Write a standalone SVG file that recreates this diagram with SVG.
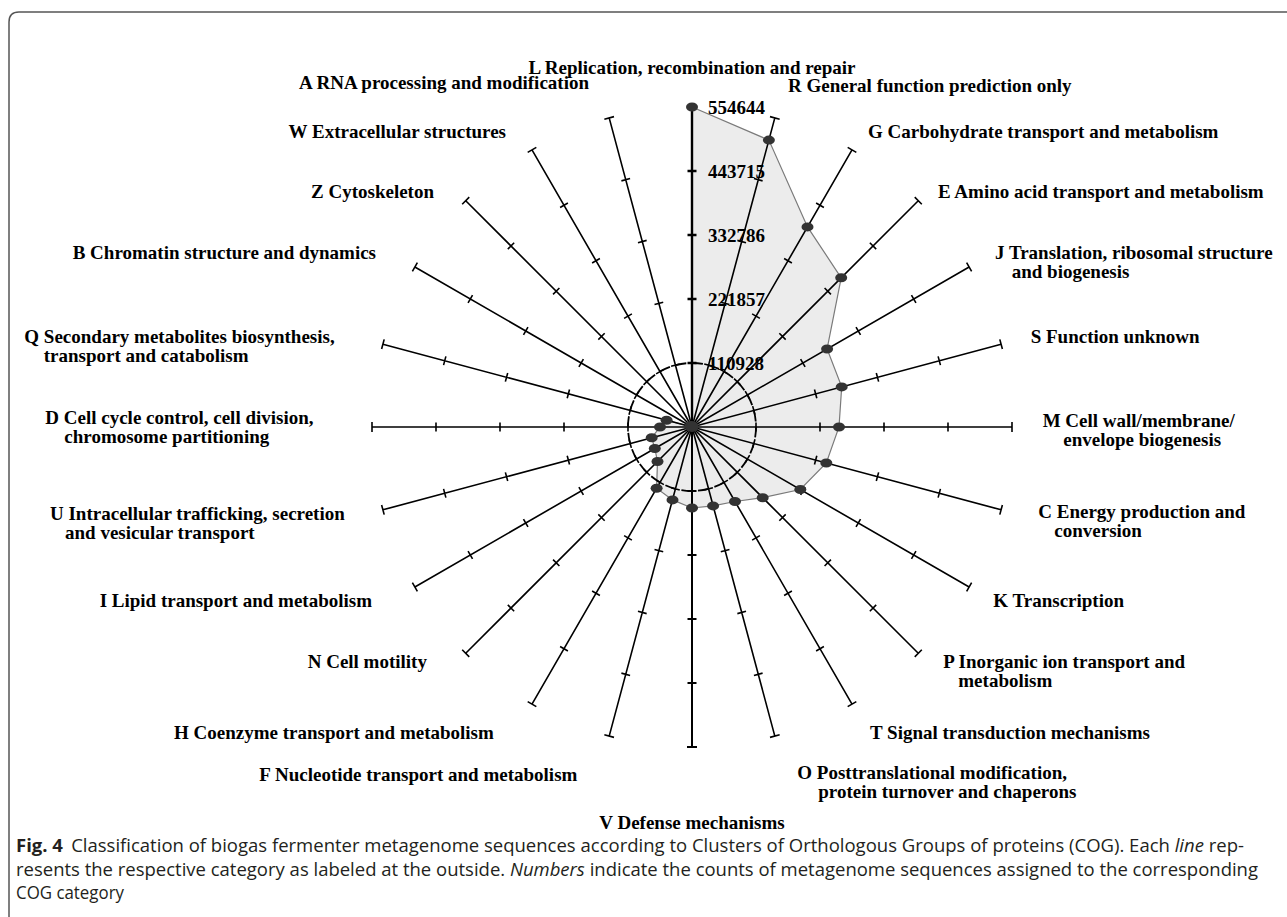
<svg xmlns="http://www.w3.org/2000/svg" width="1287" height="917" viewBox="0 0 1287 917">
<style>
.lbl{font-family:"Liberation Serif","Times New Roman",serif;font-weight:bold;font-size:19px;fill:#000}
.num{font-family:"Liberation Serif","Times New Roman",serif;font-weight:bold;font-size:19px;fill:#000}
.ax{fill:none;stroke:#000;stroke-width:1.6}
.dot{fill:#333}
.cap{font-family:"Open Sans","Noto Sans","Liberation Sans",sans-serif;font-size:18px;fill:#231f20}
</style>
<defs>
<path id="ax" d="M692 427V107M687 107H697M687.5 363H696.5M687.5 299H696.5M687.5 235H696.5M687.5 171H696.5"/>
</defs>
<rect width="1287" height="917" fill="#fff"/>
<path id="frame" d="M9 917V22Q9 12 19 12H1287" fill="none" stroke="#555" stroke-width="1.5"/>

<g id="data-area">
<polygon points="692,107 768.9,140.1 807.5,226.9 841.2,277.8 827.1,349 841.7,386.9 839,427 826.3,463 800.3,489.5 762.7,497.7 735,501.5 713.1,505.9 692,508 672.5,499.9 656.6,488.2 657.5,461.5 654.8,448.5 651.7,437.8 660,427 666.6,420.2 692,427" fill="#ececec" stroke="#7a7a7a" stroke-width="1.2"/>
<circle cx="692" cy="427" r="64" fill="none" stroke="#000" stroke-width="1.8" stroke-dasharray="10.5 6.255"/>
</g>

<g id="connectors" class="ax">
<path d="M692 427V107M687.5 363H696.5M687.5 299H696.5M687.5 235H696.5M687.5 171H696.5" stroke-width="2.4"/>
<use href="#ax" transform="rotate(15 692 427)"/>
<use href="#ax" transform="rotate(30 692 427)"/>
<use href="#ax" transform="rotate(45 692 427)"/>
<use href="#ax" transform="rotate(60 692 427)"/>
<use href="#ax" transform="rotate(75 692 427)"/>
<use href="#ax" transform="rotate(90 692 427)"/>
<use href="#ax" transform="rotate(105 692 427)"/>
<use href="#ax" transform="rotate(120 692 427)"/>
<use href="#ax" transform="rotate(135 692 427)"/>
<use href="#ax" transform="rotate(150 692 427)"/>
<use href="#ax" transform="rotate(165 692 427)"/>
<use href="#ax" transform="rotate(180 692 427)" stroke-width="2"/>
<use href="#ax" transform="rotate(195 692 427)"/>
<use href="#ax" transform="rotate(210 692 427)"/>
<use href="#ax" transform="rotate(225 692 427)"/>
<use href="#ax" transform="rotate(240 692 427)"/>
<use href="#ax" transform="rotate(255 692 427)"/>
<use href="#ax" transform="rotate(270 692 427)"/>
<use href="#ax" transform="rotate(285 692 427)"/>
<use href="#ax" transform="rotate(300 692 427)"/>
<use href="#ax" transform="rotate(315 692 427)"/>
<use href="#ax" transform="rotate(330 692 427)"/>
<use href="#ax" transform="rotate(345 692 427)"/>
</g>

<g id="points" class="dot">
<ellipse cx="692" cy="107" rx="6" ry="4.5"/>
<ellipse cx="768.9" cy="140.1" rx="6" ry="4.5"/>
<ellipse cx="807.5" cy="226.9" rx="6" ry="4.5"/>
<ellipse cx="841.2" cy="277.8" rx="6" ry="4.5"/>
<ellipse cx="827.1" cy="349" rx="6" ry="4.5"/>
<ellipse cx="841.7" cy="386.9" rx="6" ry="4.5"/>
<ellipse cx="839" cy="427" rx="6" ry="4.5"/>
<ellipse cx="826.3" cy="463" rx="6" ry="4.5"/>
<ellipse cx="800.3" cy="489.5" rx="6" ry="4.5"/>
<ellipse cx="762.7" cy="497.7" rx="6" ry="4.5"/>
<ellipse cx="735" cy="501.5" rx="6" ry="4.5"/>
<ellipse cx="713.1" cy="505.9" rx="6" ry="4.5"/>
<ellipse cx="692" cy="508" rx="6" ry="4.5"/>
<ellipse cx="672.5" cy="499.9" rx="6" ry="4.5"/>
<ellipse cx="656.6" cy="488.2" rx="6" ry="4.5"/>
<ellipse cx="657.5" cy="461.5" rx="6" ry="4.5"/>
<ellipse cx="654.8" cy="448.5" rx="6" ry="4.5"/>
<ellipse cx="651.7" cy="437.8" rx="6" ry="4.5"/>
<ellipse cx="660" cy="427" rx="6" ry="4.5"/>
<ellipse cx="666.6" cy="420.2" rx="6" ry="4.5"/>
<ellipse cx="690.5" cy="426.2" rx="6" ry="4.5"/>
<ellipse cx="691" cy="425.5" rx="6" ry="4.5"/>
<ellipse cx="692" cy="427" rx="6.5" ry="5"/>
<ellipse cx="692.5" cy="426" rx="6" ry="4.5"/>
</g>

<g id="scale" class="num">
<text x="708" y="114">554644</text>
<text x="708" y="178">443715</text>
<text x="708" y="242">332786</text>
<text x="708" y="306">221857</text>
<text x="708" y="370">110928</text>
</g>

<g id="labels" class="lbl">
<g id="L"><text x="692" y="74" text-anchor="middle">L Replication, recombination and repair</text></g>
<g id="R"><text x="788" y="92">R General function prediction only</text></g>
<g id="G"><text x="868" y="138">G Carbohydrate transport and metabolism</text></g>
<g id="E"><text x="938" y="198">E Amino acid transport and metabolism</text></g>
<g id="J"><text x="995" y="259">J Translation, ribosomal structure</text><text x="1011.7" y="278">and biogenesis</text></g>
<g id="S"><text x="1030.7" y="343">S Function unknown</text></g>
<g id="M"><text x="1042.7" y="427">M Cell wall/membrane/</text><text x="1063.3" y="446">envelope biogenesis</text></g>
<g id="C"><text x="1038.3" y="518">C Energy production and</text><text x="1054.3" y="537">conversion</text></g>
<g id="K"><text x="993.3" y="607">K Transcription</text></g>
<g id="P"><text x="943.3" y="668">P Inorganic ion transport and</text><text x="958.3" y="687">metabolism</text></g>
<g id="T"><text x="870" y="739">T Signal transduction mechanisms</text></g>
<g id="O"><text x="797.3" y="779">O Posttranslational modification,</text><text x="818.3" y="798">protein turnover and chaperons</text></g>
<g id="V"><text x="692" y="829" text-anchor="middle">V Defense mechanisms</text></g>
<g id="F"><text x="259.3" y="781">F Nucleotide transport and metabolism</text></g>
<g id="H"><text x="174" y="739">H Coenzyme transport and metabolism</text></g>
<g id="N"><text x="307.7" y="668">N Cell motility</text></g>
<g id="I"><text x="372" y="607" text-anchor="end">I Lipid transport and metabolism</text></g>
<g id="U"><text x="50" y="520">U Intracellular trafficking, secretion</text><text x="65" y="539">and vesicular transport</text></g>
<g id="D"><text x="45.3" y="424">D Cell cycle control, cell division,</text><text x="64.3" y="443">chromosome partitioning</text></g>
<g id="Q"><text x="24.3" y="343">Q Secondary metabolites biosynthesis,</text><text x="43.7" y="362">transport and catabolism</text></g>
<g id="B"><text x="72.7" y="259">B Chromatin structure and dynamics</text></g>
<g id="Z"><text x="434" y="198" text-anchor="end">Z Cytoskeleton</text></g>
<g id="W"><text x="506" y="138" text-anchor="end">W Extracellular structures</text></g>
<g id="A"><text x="589" y="89" text-anchor="end">A RNA processing and modification</text></g>
</g>

<g id="caption" class="cap">
<text x="16" y="852" textLength="1228" lengthAdjust="spacingAndGlyphs"><tspan font-weight="bold">Fig. 4</tspan><tspan dx="8">Classification of biogas fermenter metagenome sequences according to Clusters of Orthologous Groups of proteins (COG). Each </tspan><tspan font-style="italic">line</tspan> rep-</text>
<text x="16" y="875.5" textLength="1242" lengthAdjust="spacingAndGlyphs">resents the respective category as labeled at the outside. <tspan font-style="italic">Numbers</tspan> indicate the counts of metagenome sequences assigned to the corresponding</text>
<text x="16" y="899" textLength="108" lengthAdjust="spacingAndGlyphs">COG category</text>
</g>
</svg>
